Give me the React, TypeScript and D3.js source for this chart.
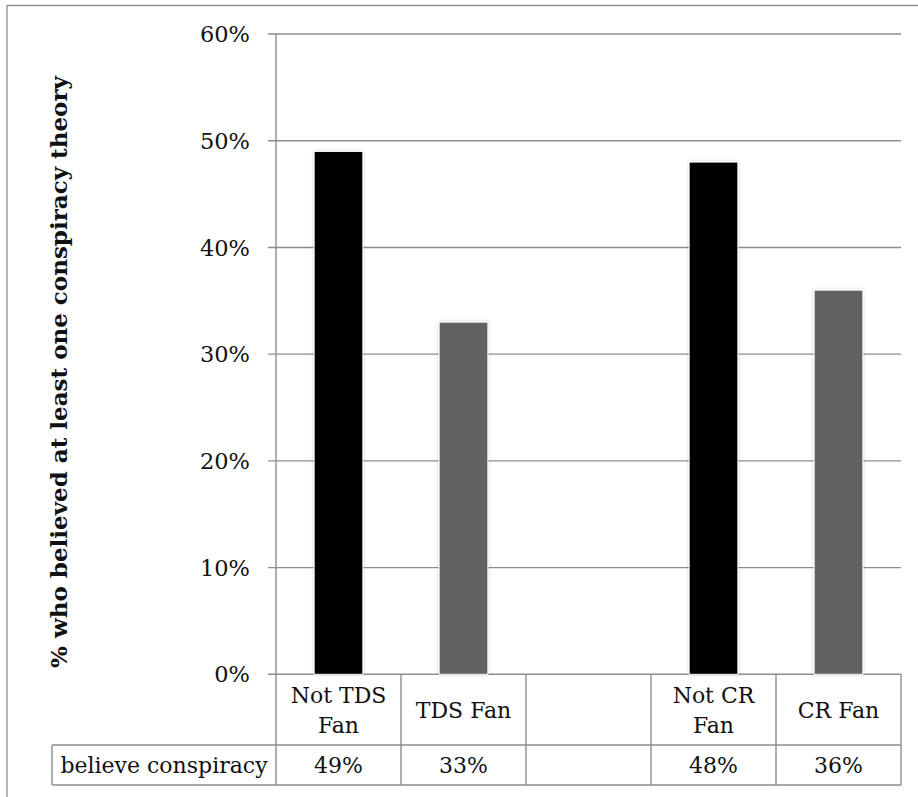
import React from "react";
import * as d3 from "d3";

// Survey groups (the blank entry is a spacer column between the two comparisons)
const categories = ["Not TDS Fan", "TDS Fan", "", "Not CR Fan", "CR Fan"];
const categoryLines = [["Not TDS", "Fan"], ["TDS Fan"], [], ["Not CR", "Fan"], ["CR Fan"]];
const believeValues: (number | null)[] = [49, 33, null, 48, 36];
const barColors = ["#000000", "#626262", "#000000", "#000000", "#626262"];
const yTicks = [0, 10, 20, 30, 40, 50, 60];
const seriesName = "believe conspiracy";
const yTitle = "% who believed at least one conspiracy theory";

const W = 918;
const H = 797;
const FONT = "'DejaVu Serif', serif";
const LINE = "#8d8d8d";

export default function App() {
  const x = d3.scaleBand<string>().domain(categories).range([276, 901]).paddingInner(0).paddingOuter(0);
  const y = d3.scaleLinear().domain([0, 60]).range([674.3, 34]);
  const bw = x.bandwidth();
  const barW = bw * 0.39;

  const tableTop = y(0);
  const rowSplit = 745;
  const tableBottom = 785;
  const headerLeft = 52;

  return (
    <svg width={W} height={H} style={{ position: "absolute", left: 0, top: 0, background: "#fff" }}>
      <defs>
        <filter id="barShadow" x="-30%" y="-10%" width="160%" height="120%">
          <feGaussianBlur in="SourceAlpha" stdDeviation="1.6" result="b" />
          <feComponentTransfer in="b" result="s">
            <feFuncA type="linear" slope="0.25" />
          </feComponentTransfer>
          <feMerge>
            <feMergeNode in="s" />
            <feMergeNode in="SourceGraphic" />
          </feMerge>
        </filter>
      </defs>

      {/* outer frame */}
      <line x1={7} x2={W + 2} y1={5.5} y2={5.5} stroke={LINE} strokeWidth={1.3} />
      <line x1={7} x2={7} y1={5} y2={H + 2} stroke={LINE} strokeWidth={1.3} />

      {/* gridlines and tick marks */}
      {yTicks.map((t) => (
        <g key={t}>
          <line x1={268} x2={901} y1={y(t)} y2={y(t)} stroke={LINE} strokeWidth={1.4} />
          <text
            x={250}
            y={y(t)}
            dy="0.36em"
            textAnchor="end"
            fontFamily={FONT}
            fontSize={22.5}
            fill="#111"
          >
            {t}%
          </text>
        </g>
      ))}

      {/* y axis title */}
      <text
        transform={`translate(67,${(34 + 674) / 2 + 18}) rotate(-90)`}
        textAnchor="middle"
        fontFamily={FONT}
        fontWeight="bold"
        fontSize={23}
        fill="#111"
      >
        {yTitle}
      </text>

      {/* bars */}
      {categories.map((c, i) => {
        const v = believeValues[i];
        if (v == null) return null;
        const cx = (x(c) as number) + bw / 2;
        return (
          <rect
            key={c}
            x={cx - barW / 2}
            y={y(v)}
            width={barW}
            height={y(0) - y(v)}
            fill={barColors[i]}
            stroke="#fff"
            strokeWidth={1}
            filter="url(#barShadow)"
          />
        );
      })}

      {/* y axis line */}
      <line x1={276} x2={276} y1={34} y2={tableBottom} stroke={LINE} strokeWidth={1.4} />

      {/* data table grid */}
      <line x1={headerLeft} x2={901} y1={rowSplit} y2={rowSplit} stroke={LINE} strokeWidth={1.4} />
      <line x1={headerLeft} x2={901} y1={tableBottom} y2={tableBottom} stroke={LINE} strokeWidth={1.4} />
      <line x1={headerLeft} x2={headerLeft} y1={rowSplit} y2={tableBottom} stroke={LINE} strokeWidth={1.4} />
      {categories.map((c) => (
        <line
          key={"v" + c}
          x1={(x(c) as number) + bw}
          x2={(x(c) as number) + bw}
          y1={tableTop}
          y2={tableBottom}
          stroke={LINE}
          strokeWidth={1.4}
        />
      ))}

      {/* category labels */}
      {categories.map((c, i) => {
        const cx = (x(c) as number) + bw / 2;
        const lines = categoryLines[i];
        const lh = 30;
        const mid = (tableTop + rowSplit) / 2;
        const first = mid - ((lines.length - 1) * lh) / 2;
        return (
          <text key={"l" + i} textAnchor="middle" fontFamily={FONT} fontSize={22} fill="#111">
            {lines.map((ln, k) => (
              <tspan key={k} x={cx} y={first + k * lh} dy="0.36em">
                {ln}
              </tspan>
            ))}
          </text>
        );
      })}

      {/* series row */}
      <text
        x={(headerLeft + 276) / 2}
        y={(rowSplit + tableBottom) / 2}
        dy="0.36em"
        textAnchor="middle"
        fontFamily={FONT}
        fontSize={22}
        fill="#111"
      >
        {seriesName}
      </text>
      {categories.map((c, i) => {
        const v = believeValues[i];
        if (v == null) return null;
        const cx = (x(c) as number) + bw / 2;
        return (
          <text
            key={"v" + i}
            x={cx}
            y={(rowSplit + tableBottom) / 2}
            dy="0.36em"
            textAnchor="middle"
            fontFamily={FONT}
            fontSize={22}
            fill="#111"
          >
            {v}%
          </text>
        );
      })}
    </svg>
  );
}
